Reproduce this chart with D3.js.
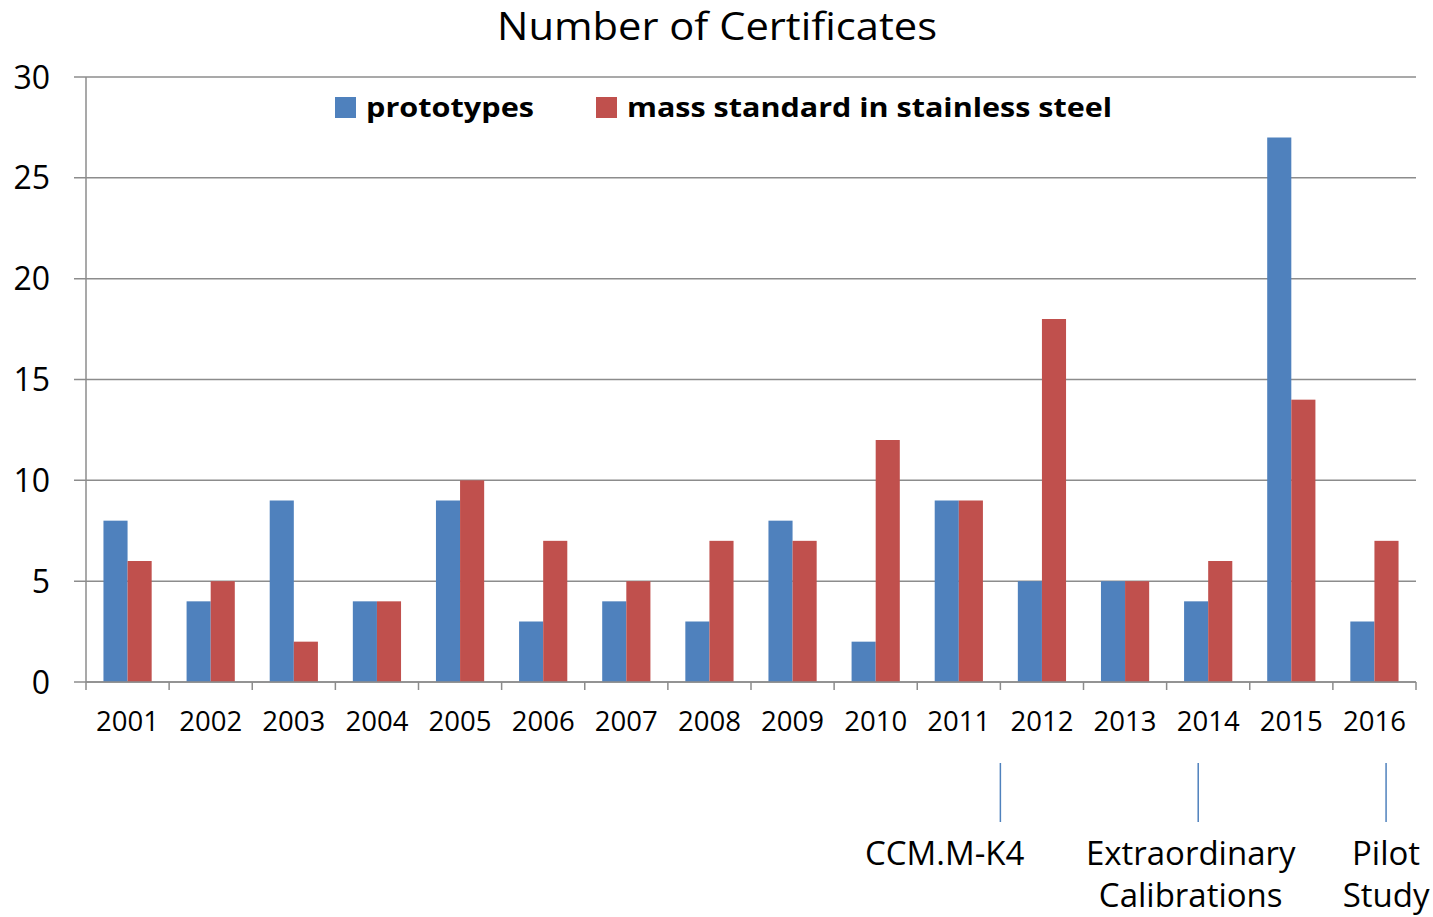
<!DOCTYPE html>
<html><head><meta charset="utf-8">
<script src="https://cdn.jsdelivr.net/npm/d3@7"></script>
<style>body{margin:0;background:#fff}svg{display:block}text{font-family:"Open Sans",sans-serif;fill:#000}</style>
</head><body>
<svg id="c" width="1433" height="917"></svg>
<script>
const years = ["2001","2002","2003","2004","2005","2006","2007","2008","2009","2010","2011","2012","2013","2014","2015","2016"];
const prototypes = [8,4,9,4,9,3,4,3,8,2,9,5,5,4,27,3];
const steel = [6,5,2,4,10,7,5,7,7,12,9,18,5,6,14,7];
const yTicks = [0,5,10,15,20,25,30];
const seriesNames = ["prototypes","mass standard in stainless steel"];
const colors = ["#4F81BD","#C0504D"];
const annotations = [
  {pos: 11.0, lines: ["CCM.M-K4"], tx: 10.33},
  {pos: 13.38, lines: ["Extraordinary","Calibrations"], tx: 13.29},
  {pos: 15.64, lines: ["Pilot","Study"], tx: 15.64}
];

const svg = d3.select("#c");
const L = 86, R = 1416, T = 77, B = 682;
const x = d3.scaleBand().domain(years).range([L, R]).padding(0);
const y = d3.scaleLinear().domain([0, 30]).range([B, T]);
const bw = x.bandwidth();
const barW = bw * 0.29;
const grid = "#8c8c8c";

// gridlines + y ticks
svg.append("g").selectAll("line").data(yTicks).join("line")
  .attr("x1", L - 12).attr("x2", R).attr("y1", d => y(d)).attr("y2", d => y(d))
  .attr("stroke", grid).attr("stroke-width", 1.5);
svg.append("g").selectAll("text").data(yTicks).join("text")
  .attr("x", 50).attr("y", d => y(d)).attr("dy", "0.36em").attr("text-anchor", "end")
  .style("font-size", "32px").text(d => d);

// bars
const idx = d3.range(years.length);
svg.append("g").selectAll("rect").data(idx).join("rect")
  .attr("x", i => x(years[i]) + bw/2 - barW).attr("width", barW)
  .attr("y", i => y(prototypes[i])).attr("height", i => y(0) - y(prototypes[i]))
  .attr("fill", colors[0]);
svg.append("g").selectAll("rect").data(idx).join("rect")
  .attr("x", i => x(years[i]) + bw/2).attr("width", barW)
  .attr("y", i => y(steel[i])).attr("height", i => y(0) - y(steel[i]))
  .attr("fill", colors[1]);

// axes lines
svg.append("line").attr("x1", L).attr("x2", L).attr("y1", T).attr("y2", B + 8).attr("stroke", grid).attr("stroke-width", 1.5);
svg.append("line").attr("x1", L).attr("x2", R).attr("y1", B).attr("y2", B).attr("stroke", grid).attr("stroke-width", 1.5);
svg.append("g").selectAll("line").data(years.slice(1).concat(["end"])).join("line")
  .attr("x1", d => d === "end" ? R : x(d)).attr("x2", d => d === "end" ? R : x(d))
  .attr("y1", B).attr("y2", B + 8).attr("stroke", grid).attr("stroke-width", 1.5);
svg.append("g").selectAll("text").data(years).join("text")
  .attr("x", d => x(d) + bw/2).attr("y", 731).attr("text-anchor", "middle")
  .style("font-size", "27.5px").text(d => d);

// title
svg.append("text").attr("x", 717).attr("y", 40).attr("text-anchor", "middle")
  .style("font-size", "38px").attr("textLength", 440).attr("lengthAdjust", "spacingAndGlyphs")
  .text("Number of Certificates");

// legend
const legX = [335, 596];
seriesNames.forEach((n, i) => {
  svg.append("rect").attr("x", legX[i]).attr("y", 97).attr("width", 21).attr("height", 21).attr("fill", colors[i]);
  svg.append("text").attr("x", legX[i] + 31).attr("y", 117).style("font-size", "27px").style("font-weight", "bold")
    .attr("textLength", i === 0 ? 168 : 485).attr("lengthAdjust", "spacingAndGlyphs").text(n);
});

// annotations
const posX = p => L + p * bw;
annotations.forEach(a => {
  svg.append("line").attr("x1", posX(a.pos)).attr("x2", posX(a.pos)).attr("y1", 763).attr("y2", 822)
    .attr("stroke", "#4F81BD").attr("stroke-width", 1.5);
  a.lines.forEach((t, j) => {
    svg.append("text").attr("x", posX(a.tx)).attr("y", 865 + j * 42).attr("text-anchor", "middle")
      .style("font-size", "33px").text(t);
  });
});
</script>
</body></html>
